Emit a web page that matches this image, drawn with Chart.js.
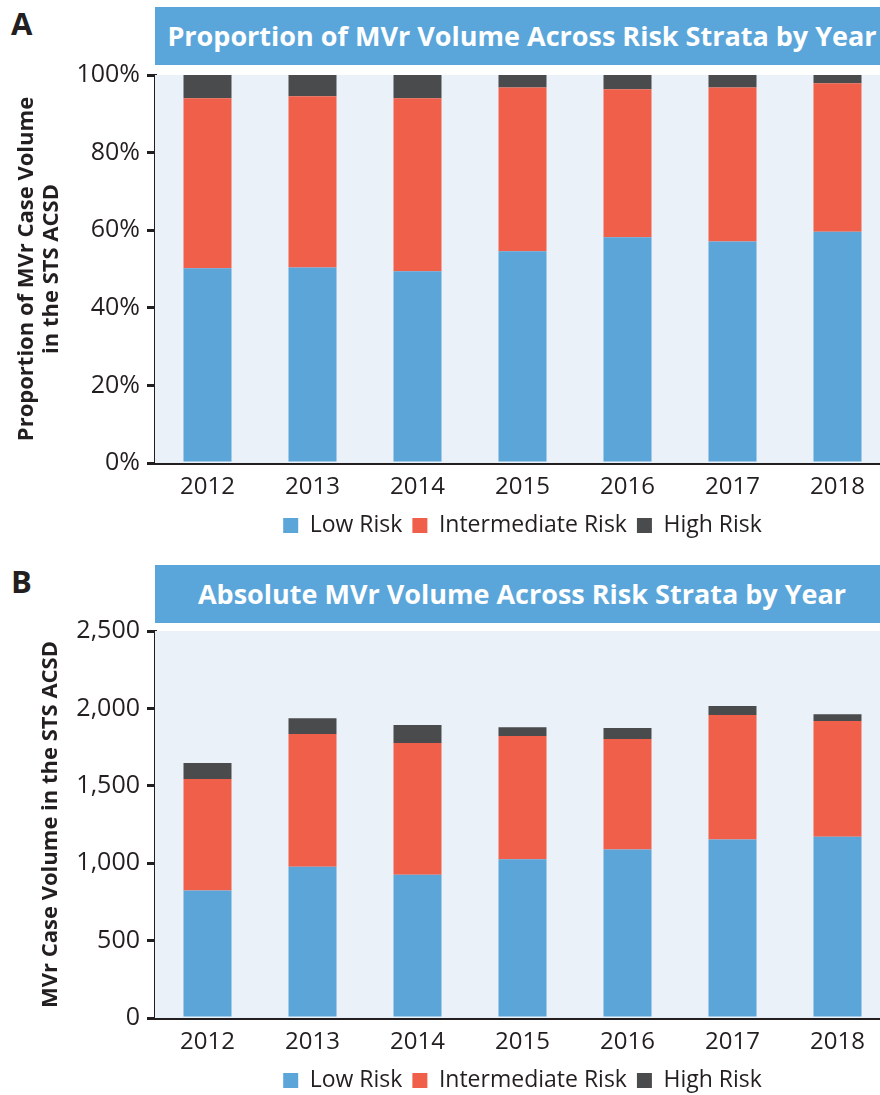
<!DOCTYPE html>
<html>
<head>
<meta charset="utf-8">
<script src="https://cdn.jsdelivr.net/npm/chart.js@4.4.0/dist/chart.umd.min.js"></script>
<style>
  html, body { margin: 0; padding: 0; overflow: hidden; background: #fff; }
  #wrap { position: relative; width: 880px; height: 1095px; overflow: hidden; font-family: "Open Sans", sans-serif; }
  .letter { position: absolute; left: 11px; font-size: 31px; font-weight: 700; color: #231f20; line-height: 1; }
  .bar { position: absolute; left: 155px; width: 725px; height: 58px; background: #5aa6da; color: #fff;
         font-size: 27px; font-weight: 700; line-height: 58px; text-align: center; box-sizing: border-box; padding-left: 9px; white-space: nowrap; }
  canvas { position: absolute; left: 0; }
</style>
</head>
<body>
<div id="wrap">
  <div class="letter" style="top:8px">A</div>
  <div class="bar" style="top:7px">Proportion of MVr Volume Across Risk Strata by Year</div>
  <canvas id="chartA" width="890" height="550" style="top:0"></canvas>

  <div class="letter" style="top:566px">B</div>
  <div class="bar" style="top:565px">Absolute MVr Volume Across Risk Strata by Year</div>
  <canvas id="chartB" width="890" height="555" style="top:550px"></canvas>
</div>
<script>
// years on the x axis
const years = ["2012", "2013", "2014", "2015", "2016", "2017", "2018"];
const seriesNames = ["Low Risk", "Intermediate Risk", "High Risk"];

// panel A: share of volume (%)
const lowPct = [50.2, 50.4, 49.4, 54.6, 58.2, 57.1, 59.6];
const interPct = [43.8, 44.1, 44.6, 42.2, 38.1, 39.7, 38.3];
const highPct = [6.0, 5.5, 6.0, 3.2, 3.7, 3.2, 2.1];

// panel B: case counts
const lowCount = [823, 977, 926, 1025, 1089, 1153, 1171];
const interCount = [721, 857, 850, 796, 713, 804, 747];
const highCount = [103, 103, 116, 58, 71, 58, 45];

const colors = ["#5ba5d9", "#ef5f4a", "#4a4b4d"];
const ink = "#231f20";

// light blue fill behind the bars
const plotBg = {
  id: "plotBg",
  beforeDatasetsDraw(chart) {
    const a = chart.chartArea;
    const ctx = chart.ctx;
    ctx.save();
    ctx.fillStyle = "#eaf1f9";
    ctx.fillRect(a.left, a.top, chart.width - a.left, a.bottom - a.top);
    ctx.restore();
  }
};

function makeChart(id, sets, yOpts, yTitle, titlePad, padTop) {
  return new Chart(document.getElementById(id), {
    type: "bar",
    data: {
      labels: years,
      datasets: sets.map((d, i) => ({
        label: seriesNames[i],
        data: d,
        backgroundColor: colors[i],
        borderWidth: 0,
        barPercentage: 0.457,
        categoryPercentage: 1
      }))
    },
    options: {
      responsive: false,
      animation: false,
      layout: { padding: { top: padTop, bottom: 3, left: 0, right: 0 } },
      plugins: {
        tooltip: { enabled: false },
        legend: {
          position: "bottom",
          fullSize: false,
          labels: {
            boxWidth: 15,
            boxHeight: 15,
            padding: 10,
            color: ink,
            font: { family: "Open Sans", size: 23 }
          }
        }
      },
      scales: {
        x: {
          stacked: true,
          grid: { display: false },
          border: { color: ink, width: 3 },
          ticks: { color: ink, padding: 2, font: { family: "Open Sans", size: 24 } },
          afterFit(s) { s.height = 41; }
        },
        y: Object.assign({
          stacked: true,
          grid: { drawOnChartArea: false, color: ink, lineWidth: 3, tickLength: 8 },
          border: { color: ink, width: 3 },
          title: {
            display: true,
            text: yTitle,
            color: ink,
            padding: { top: titlePad, bottom: 0 },
            font: { family: "Open Sans", size: 22, weight: "bold", lineHeight: 1.15 }
          },
          afterFit(s) { s.width = 155; }
        }, yOpts)
      }
    },
    plugins: [plotBg]
  });
}

makeChart("chartA", [lowPct, interPct, highPct], {
  min: 0, max: 100,
  ticks: { stepSize: 20, color: ink, padding: 7, font: { family: "Open Sans", size: 25 }, callback: v => v + "%" }
}, ["Proportion of MVr Case Volume", "in the STS ACSD"], 14, 75);

makeChart("chartB", [lowCount, interCount, highCount], {
  min: 0, max: 2500,
  ticks: { stepSize: 500, color: ink, padding: 7, font: { family: "Open Sans", size: 25 }, callback: v => v.toLocaleString("en-US") }
}, "MVr Case Volume in the STS ACSD", 38, 81);
</script>
</body>
</html>
